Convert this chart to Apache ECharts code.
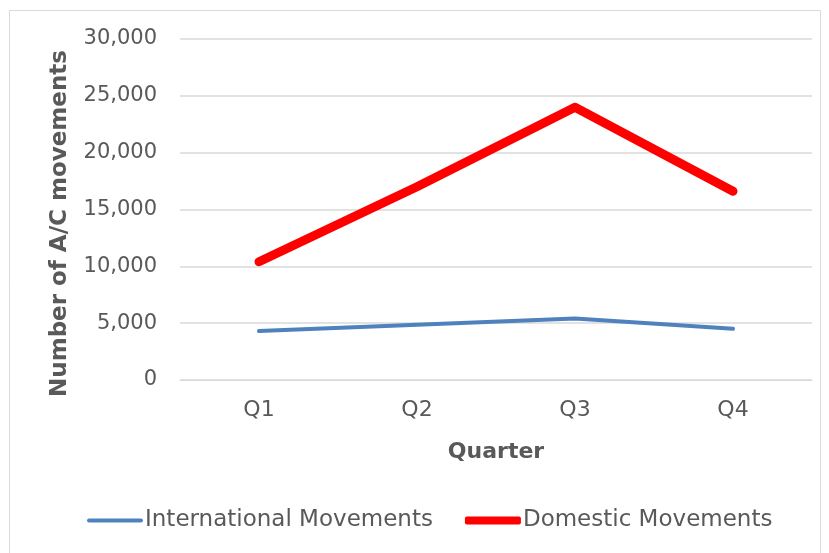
<!DOCTYPE html>
<html>
<head>
<meta charset="utf-8">
<script src="https://cdn.jsdelivr.net/npm/echarts@6/dist/echarts.min.js"></script>
<style>
  html, body { margin: 0; padding: 0; background: #fff; }
  #main { width: 829px; height: 553px; }
</style>
</head>
<body>
<div id="main"></div>
<script>
// quarters on the x axis
var quarters = ["Q1", "Q2", "Q3", "Q4"];
// aircraft movements per quarter
var internationalMovements = [4300, 4850, 5400, 4500];
var domesticMovements = [10400, 17000, 24000, 16600];

var textColor = "#595959";
var fontFamily = "DejaVu Sans";

var chart = echarts.init(document.getElementById("main"));

var option = {
  backgroundColor: "#fff",
  animation: false,
  textStyle: { fontFamily: fontFamily, color: textColor },
  graphic: [
    {
      type: "rect",
      shape: { x: 9.5, y: 10.5, width: 811, height: 560 },
      style: { fill: "none", stroke: "#d9d9d9", lineWidth: 1 },
      silent: true
    }
  ],
  grid: {
    left: 180,
    right: 17,
    top: 39,
    bottom: 173
  },
  legend: {
    bottom: 16,
    left: 82,
    itemWidth: 56,
    itemHeight: 8,
    itemGap: 32,
    textStyle: { color: textColor, fontSize: 23, fontFamily: fontFamily, padding: [0, 0, 0, -3] },
    data: [
      { name: "International Movements", icon: "path://M2,0 L54,0 A2,2 0 0 1 54,4 L2,4 A2,2 0 0 1 2,0 Z" },
      { name: "Domestic Movements", icon: "roundRect" }
    ]
  },
  xAxis: {
    type: "category",
    data: quarters,
    boundaryGap: true,
    name: "Quarter",
    nameLocation: "middle",
    nameGap: 61,
    nameTextStyle: { color: textColor, fontSize: 22, fontWeight: "bold", fontFamily: fontFamily },
    axisLine: { show: true, lineStyle: { color: "#d9d9d9", width: 1 } },
    axisTick: { show: false },
    axisLabel: { color: textColor, fontSize: 22, margin: 19, fontFamily: fontFamily }
  },
  yAxis: {
    type: "value",
    min: 0,
    max: 30000,
    interval: 5000,
    name: "Number of A/C movements",
    nameLocation: "middle",
    nameGap: 108,
    nameTextStyle: {
      color: textColor,
      fontSize: 23,
      fontWeight: "bold",
      fontFamily: fontFamily,
      padding: [0, 28, 0, 0]
    },
    axisLine: { show: false },
    axisTick: { show: false },
    axisLabel: {
      color: textColor,
      fontSize: 21,
      margin: 23,
      fontFamily: fontFamily,
      formatter: function (v) { return v.toLocaleString("en-US"); }
    },
    splitLine: { show: true, lineStyle: { color: "#d9d9d9", width: 1.5 } }
  },
  series: [
    {
      name: "International Movements",
      type: "line",
      data: internationalMovements,
      showSymbol: false,
      symbol: "none",
      color: "#4f81bd",
      lineStyle: { color: "#4f81bd", width: 4, cap: "round", join: "round" }
    },
    {
      name: "Domestic Movements",
      type: "line",
      data: domesticMovements,
      showSymbol: false,
      symbol: "none",
      color: "#ff0000",
      lineStyle: { color: "#ff0000", width: 9, cap: "round", join: "round" }
    }
  ]
};

chart.setOption(option);
</script>
</body>
</html>
